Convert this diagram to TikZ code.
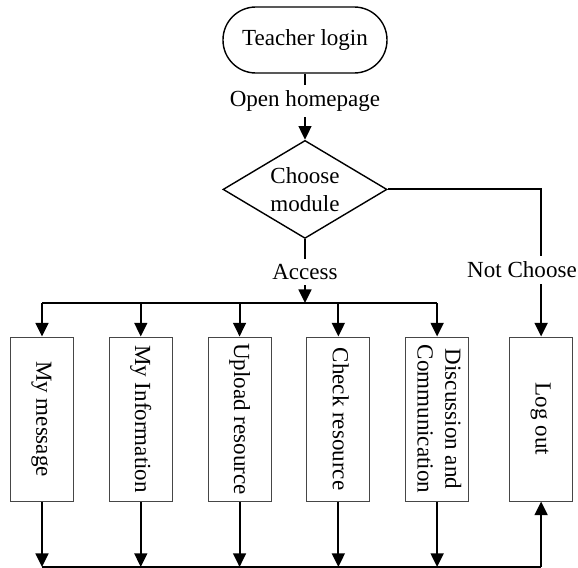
\documentclass[tikz,border=0pt]{standalone}
\usepackage{fontspec}
\setmainfont{Liberation Serif}
\usepackage{graphicx}
\usepackage{tikz}
\usetikzlibrary{shapes.geometric, arrows.meta, positioning, backgrounds}
\definecolor{boxgray}{RGB}{70,70,70}
\newcommand{\sidetext}[1]{\rotatebox{-90}{\begin{tabular}{@{}c@{}}#1\end{tabular}}}

\begin{document}
\begin{tikzpicture}[
    font=\fontsize{16.4}{19.8}\selectfont,
    every node/.style={inner sep=0pt},
    terminal/.style={draw, line width=1pt, rounded corners=0.82cm,
                     minimum width=4.1cm, minimum height=1.65cm},
    decision/.style={draw, diamond, aspect=1.67, line width=1pt, align=center,
                     minimum width=4.1cm, minimum height=2.45cm},
    module/.style={draw=boxgray, line width=0.7pt,
                   minimum width=1.575cm, minimum height=4.1cm},
    flowlabel/.style={fill=white, inner xsep=0.05cm, inner ysep=0.14cm},
    flow/.style={line width=1.4pt, -{Triangle[length=0.34cm, width=0.32cm]}},
    busline/.style={line width=1.4pt}
]
    \useasboundingbox (0,0) rectangle (14.45,-14.2);

    % top of the flow
    \node[terminal] (login) at (7.625,-1.0) {Teacher login};
    \node[decision, below=1.65cm of login] (choose) {Choose\\module};
    \node[flowlabel] (open) at ([yshift=-0.675cm]login.south) {Open homepage};
    \node[flowlabel] (access) at ([yshift=-0.825cm]choose.south) {Access};

    % modules
    \node[module] (msg) at (1.05,-10.475) {\sidetext{My message}};
    \node[module, right=0.87cm of msg] (info) {\sidetext{My Information}};
    \node[module, right=0.87cm of info] (upload) {\sidetext{Upload resource}};
    \node[module, right=0.87cm of upload] (check) {\sidetext{Check resource}};
    \node[module, right=0.87cm of check] (discuss) {\sidetext{Discussion and\\Communication}};
    \node[module, right=1.0cm of discuss] (logout) {\sidetext{Log out}};
    \node[flowlabel] (notchoose) at (13.05,-6.75) {Not Choose};

    \coordinate (bustop) at (0,-7.575);
    \coordinate (busbottom) at (0,-14.175);

    % connectors
    \begin{scope}[on background layer]
        \draw[flow] (login) -- (choose);
        \draw[flow] (choose) -- (choose |- bustop);
        \draw[flow] (choose.east) -| (logout);
        \draw[busline] (msg |- bustop) -- (discuss |- bustop);
        \foreach \m in {msg,info,upload,check,discuss} {
            \draw[flow] (\m |- bustop) -- (\m);
            \draw[flow] (\m) -- (\m |- busbottom);
        }
        \draw[busline] (msg |- busbottom) -- (logout |- busbottom);
        \draw[flow] (logout |- busbottom) -- (logout);
    \end{scope}
\end{tikzpicture}
\end{document}
